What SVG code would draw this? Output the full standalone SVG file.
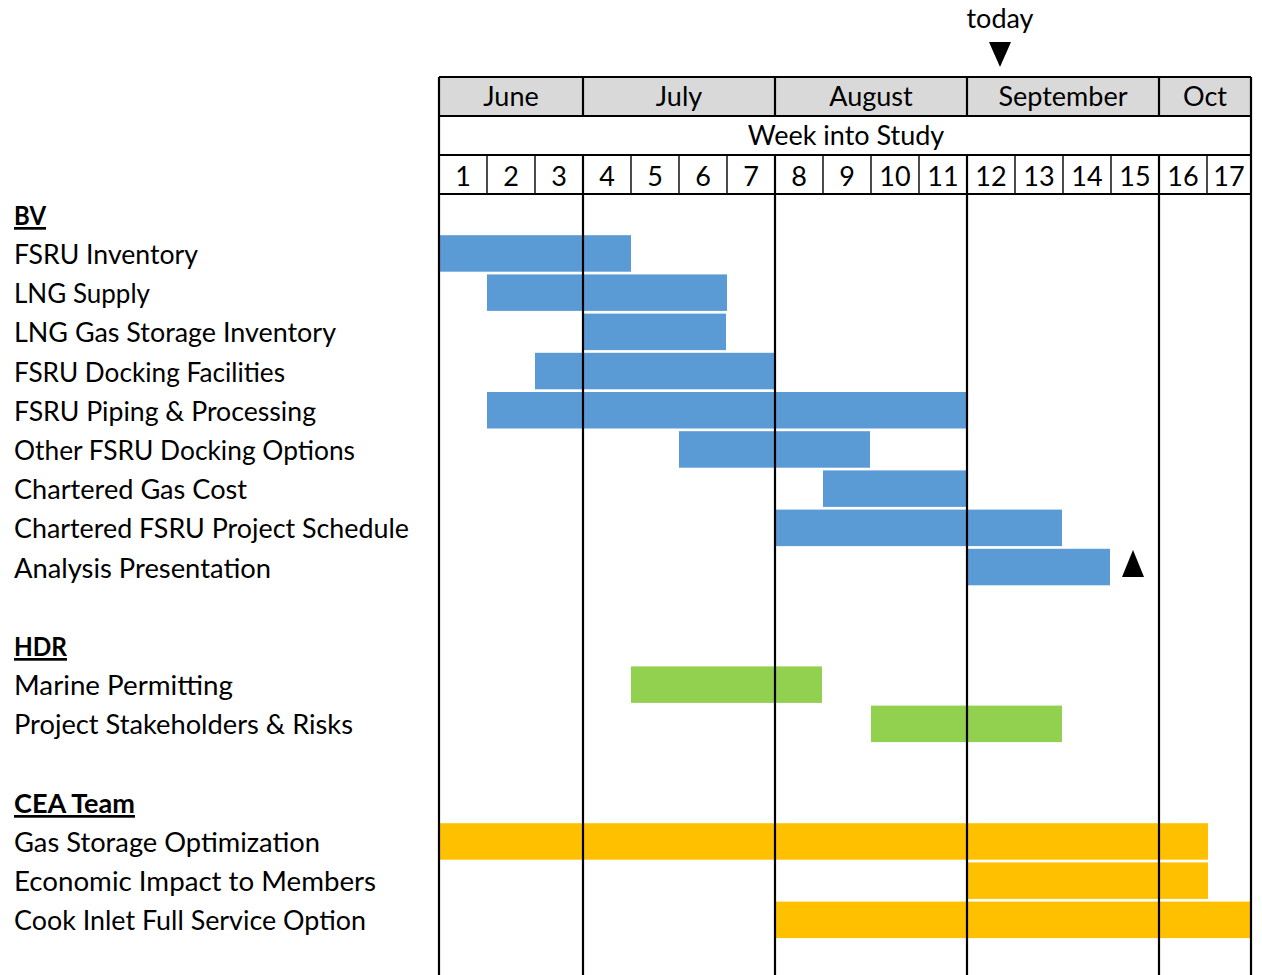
<svg xmlns="http://www.w3.org/2000/svg" width="1262" height="975" viewBox="0 0 1262 975">
<style>
text{font-family:Lato,"Liberation Sans",sans-serif;font-size:27px;fill:#000}
.c{text-anchor:middle}
.h{font-weight:bold;text-decoration:underline}
.b{fill:#5b9bd5}
.g{fill:#92d050}
.y{fill:#ffc000}
.thick{stroke:#000;stroke-width:2.2;fill:none}
.thin{stroke:#000;stroke-width:1.4;fill:none}
</style>
<rect width="1262" height="975" fill="#fff"/>
<g id="today">
<text class="c" x="1000" y="28">today</text>
<polygon points="989,42 1011,42 1000,67" fill="#000"/>
</g>
<g id="header">
<rect x="439" y="77" width="812" height="39" fill="#d9d9d9"/>
<text class="c" x="511" y="106">June</text>
<text class="c" x="679" y="106">July</text>
<text class="c" x="871" y="106">August</text>
<text class="c" x="1063" y="106">September</text>
<text class="c" x="1205" y="106">Oct</text>
<text class="c" x="846" y="145">Week into Study</text>
<text class="c" x="463" y="186">1</text>
<text class="c" x="511" y="186">2</text>
<text class="c" x="559" y="186">3</text>
<text class="c" x="607" y="186">4</text>
<text class="c" x="655" y="186">5</text>
<text class="c" x="703" y="186">6</text>
<text class="c" x="751" y="186">7</text>
<text class="c" x="799" y="186">8</text>
<text class="c" x="847" y="186">9</text>
<text class="c" x="895" y="186">10</text>
<text class="c" x="943" y="186">11</text>
<text class="c" x="991" y="186">12</text>
<text class="c" x="1039" y="186">13</text>
<text class="c" x="1087" y="186">14</text>
<text class="c" x="1135" y="186">15</text>
<text class="c" x="1183" y="186">16</text>
<text class="c" x="1229" y="186">17</text>
</g>
<g id="group-bv">
<text class="h" x="14" y="225" textLength="32" lengthAdjust="spacingAndGlyphs">BV</text>
</g>
<g id="task-fsru-inventory"><text x="14" y="264" textLength="184" lengthAdjust="spacingAndGlyphs">FSRU Inventory</text><rect class="b" x="439" y="235.2" width="192" height="36.5"/></g>
<g id="task-lng-supply"><text x="14" y="303" textLength="136" lengthAdjust="spacingAndGlyphs">LNG Supply</text><rect class="b" x="487" y="274.4" width="240" height="36.5"/></g>
<g id="task-lng-gas-storage"><text x="14" y="342" textLength="322" lengthAdjust="spacingAndGlyphs">LNG Gas Storage Inventory</text><rect class="b" x="583" y="313.6" width="143" height="36.5"/></g>
<g id="task-fsru-docking"><text x="14" y="382" textLength="271" lengthAdjust="spacingAndGlyphs">FSRU Docking Facilities</text><rect class="b" x="535" y="352.8" width="240" height="36.5"/></g>
<g id="task-fsru-piping"><text x="14" y="421" textLength="302" lengthAdjust="spacingAndGlyphs">FSRU Piping &amp; Processing</text><rect class="b" x="487" y="392" width="480" height="36.5"/></g>
<g id="task-other-docking"><text x="14" y="460" textLength="341" lengthAdjust="spacingAndGlyphs">Other FSRU Docking Options</text><rect class="b" x="679" y="431.2" width="191" height="36.5"/></g>
<g id="task-chartered-gas"><text x="14" y="499" textLength="233" lengthAdjust="spacingAndGlyphs">Chartered Gas Cost</text><rect class="b" x="823" y="470.4" width="144" height="36.5"/></g>
<g id="task-chartered-schedule"><text x="14" y="538" textLength="395" lengthAdjust="spacingAndGlyphs">Chartered FSRU Project Schedule</text><rect class="b" x="775" y="509.6" width="287" height="36.5"/></g>
<g id="task-analysis"><text x="14" y="578" textLength="257" lengthAdjust="spacingAndGlyphs">Analysis Presentation</text><rect class="b" x="967" y="548.8" width="143" height="36.5"/><polygon points="1133,550 1144,577 1122,577" fill="#000"/></g>
<g id="group-hdr">
<text class="h" x="14" y="656" textLength="53" lengthAdjust="spacingAndGlyphs">HDR</text>
</g>
<g id="task-marine"><text x="14" y="695" textLength="219" lengthAdjust="spacingAndGlyphs">Marine Permitting</text><rect class="g" x="631" y="666.4" width="191" height="36.5"/></g>
<g id="task-stakeholders"><text x="14" y="734" textLength="339" lengthAdjust="spacingAndGlyphs">Project Stakeholders &amp; Risks</text><rect class="g" x="871" y="705.6" width="191" height="36.5"/></g>
<g id="group-cea">
<text class="h" x="14" y="813" textLength="121" lengthAdjust="spacingAndGlyphs">CEA Team</text>
</g>
<g id="task-gas-storage-opt"><text x="14" y="852" textLength="306" lengthAdjust="spacingAndGlyphs">Gas Storage Optimization</text><rect class="y" x="439" y="823.2" width="769" height="36.5"/></g>
<g id="task-economic"><text x="14" y="891" textLength="362" lengthAdjust="spacingAndGlyphs">Economic Impact to Members</text><rect class="y" x="967" y="862.4" width="241" height="36.5"/></g>
<g id="task-cook-inlet"><text x="14" y="930" textLength="352" lengthAdjust="spacingAndGlyphs">Cook Inlet Full Service Option</text><rect class="y" x="775" y="901.6" width="476" height="36.5"/></g>
<g id="connectors">
<path class="thick" d="M439,77H1251M439,116H1251M439,155H1251M439,194H1251"/>
<path class="thick" d="M439,77V975M1251,77V975M583,77V116M775,77V116M967,77V116M1159,77V116"/>
<path class="thick" d="M583,155V975M775,155V975M967,155V975M1159,155V975"/>
<path class="thin" d="M487,155V194M535,155V194M631,155V194M679,155V194M727,155V194M823,155V194M871,155V194M919,155V194M1015,155V194M1063,155V194M1111,155V194M1207,155V194"/>
</g>
</svg>
